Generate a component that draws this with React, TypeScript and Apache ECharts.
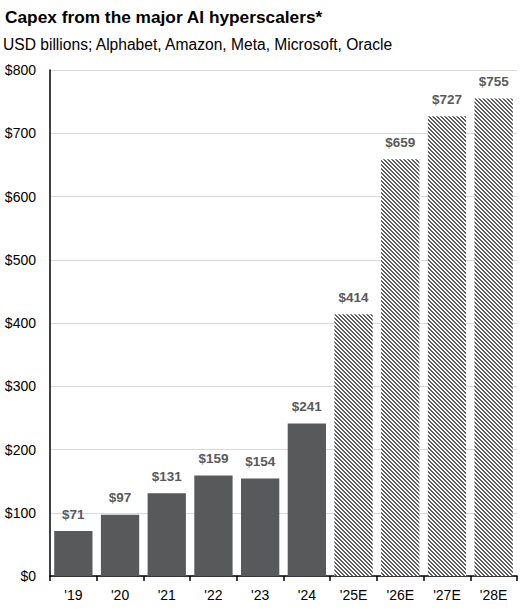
import { useEffect, useRef } from 'react';
import * as echarts from 'echarts';

const years = ["'19", "'20", "'21", "'22", "'23", "'24", "'25E", "'26E", "'27E", "'28E"];
const capex = [71, 97, 131, 159, 154, 241, 414, 659, 727, 755];
const isEstimate = [false, false, false, false, false, false, true, true, true, true];
const yTicks = [0, 100, 200, 300, 400, 500, 600, 700, 800];

// diagonal hatch for the estimate bars
function makeHatch() {
  const size = 4;
  const c = document.createElement('canvas');
  c.width = size;
  c.height = size;
  const ctx = c.getContext('2d')!;
  ctx.fillStyle = '#ffffff';
  ctx.fillRect(0, 0, size, size);
  ctx.fillStyle = '#5c5c5c';
  for (let x = 0; x < size; x++) {
    for (let y = 0; y < size; y++) {
      const d = (((x - y) % size) + size) % size;
      if (d < 2) ctx.fillRect(x, y, 1, 1);
    }
  }
  return c;
}

export default function App() {
  const chartRef = useRef<HTMLDivElement>(null);

  useEffect(() => {
    if (!chartRef.current) return;
    document.body.style.margin = '0';
    const chart = echarts.init(chartRef.current, null, { renderer: 'svg' });
    const hatch = makeHatch();

    const option = {
      animation: false,
      textStyle: { fontFamily: 'Liberation Sans, Arial, sans-serif' },
      title: [
        {
          text: 'Capex from the major AI hyperscalers*',
          left: 5,
          top: 8,
          padding: 0,
          textStyle: { fontSize: 17.3, fontWeight: 'bold', color: '#000' },
        },
        {
          text: 'USD billions; Alphabet, Amazon, Meta, Microsoft, Oracle',
          left: 3,
          top: 36,
          padding: 0,
          textStyle: { fontSize: 15.6, fontWeight: 'normal', color: '#000' },
        },
      ],
      grid: { left: 50, right: 9, top: 70, bottom: 35 },
      xAxis: {
        type: 'category',
        data: years,
        axisLine: { lineStyle: { color: '#000', width: 1.5 } },
        axisTick: { show: true, length: 5, lineStyle: { color: '#000', width: 1.5 } },
        axisLabel: { color: '#000', fontSize: 14, margin: 12 },
      },
      yAxis: {
        type: 'value',
        min: 0,
        max: 800,
        interval: 100,
        axisLine: { show: true, lineStyle: { color: '#000', width: 1.5 } },
        axisTick: { show: false },
        splitLine: { lineStyle: { color: '#d9d9d9', width: 1 } },
        axisLabel: {
          color: '#000',
          fontSize: 14,
          margin: 14,
          formatter: (v: number) => (yTicks.includes(v) ? '$' + v : ''),
        },
      },
      series: [
        {
          type: 'bar',
          barCategoryGap: '18%',
          data: capex.map((v, i) => ({
            value: v,
            itemStyle: {
              color: isEstimate[i] ? { image: hatch, repeat: 'repeat' } : '#58595b',
            },
          })),
          label: {
            show: true,
            position: 'top',
            distance: 10,
            formatter: (p: any) => '$' + p.value,
            color: '#595959',
            fontSize: 13.5,
            fontWeight: 'bold',
          },
        },
      ],
    };

    chart.setOption(option as any);
    return () => chart.dispose();
  }, []);

  return <div ref={chartRef} style={{ width: 526, height: 611 }} />;
}
